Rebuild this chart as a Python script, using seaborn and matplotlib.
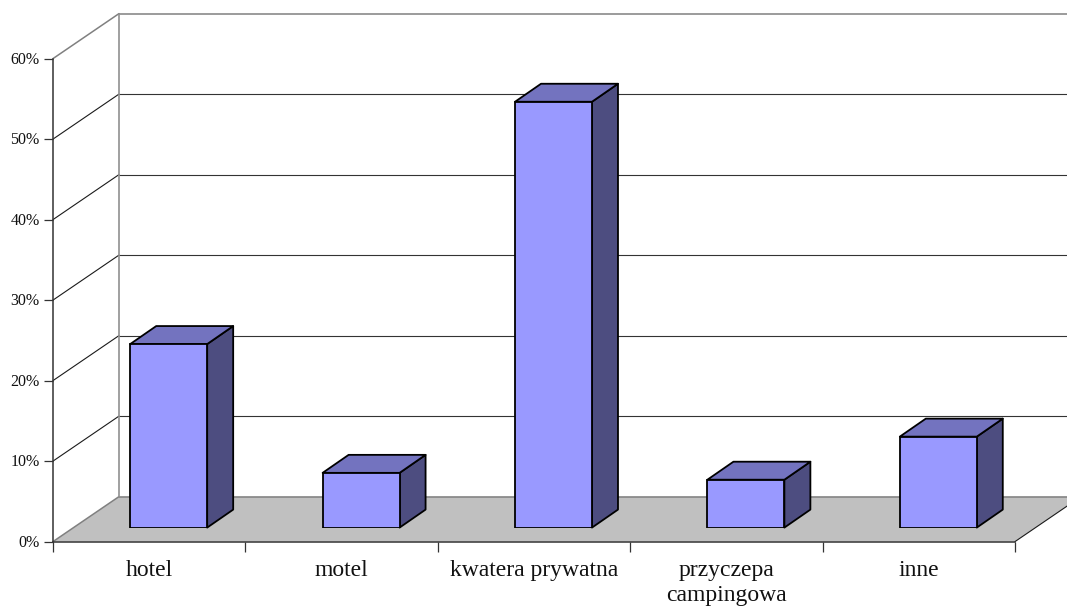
import numpy as np
import pandas as pd
import matplotlib
matplotlib.use("Agg")
import matplotlib.pyplot as plt
from matplotlib.patches import Polygon
from matplotlib.lines import Line2D
from matplotlib.transforms import IdentityTransform, ScaledTranslation
import seaborn as sns

categories = ["hotel", "motel", "kwatera prywatna", "przyczepa\ncampingowa", "inne"]
values = [22.8, 6.8, 52.9, 5.95, 11.3]
y_ticks = [0, 10, 20, 30, 40, 50, 60]
y_labels = ["0%", "10%", "20%", "30%", "40%", "50%", "60%"]

W, H = 1067, 606
sns.set_theme(style="white")
plt.rcParams["font.family"] = ["Liberation Serif", "DejaVu Serif"]

FRONT = "#9999FF"
SIDE = "#4D4D80"
TOP = "#7373BF"
FLOOR = "#C0C0C0"
GREY = "#808080"
DARK = "#1a1a1a"

fig = plt.figure(figsize=(W / 100, H / 100), dpi=100, facecolor="white")

# front plane of the chart: carries the axis, ticks and labels
L, R, B, T = 53, 1015, 541.6, 58.6
rect = [L / W, (H - B) / H, (R - L) / W, (B - T) / H]
ax = fig.add_axes(rect, facecolor="none")
ax.set_xlim(0, 5)
ax.set_ylim(0, 60)
for s in ("top", "right"):
    ax.spines[s].set_visible(False)
for s in ("left", "bottom"):
    ax.spines[s].set_color("#333333")
    ax.spines[s].set_linewidth(1.1)
ax.set_yticks(y_ticks)
ax.set_yticklabels(y_labels, fontsize=11.5, color="#111111")
ax.set_xticks(range(6))
ax.set_xticklabels([])
ax.set_xticks(np.arange(5) + 0.5, minor=True)
ax.set_xticklabels(categories, minor=True, fontsize=17, color="#111111", linespacing=1.26)
ax.tick_params(axis="x", which="major", length=7, width=0.9, color="#333333", bottom=True)
ax.tick_params(axis="x", which="minor", length=0, pad=13, bottom=False)
ax.tick_params(axis="y", which="major", length=6.5, width=0.9, color="#333333", left=True, pad=3)
nudge = ScaledTranslation(0, 1 / 100, fig.dpi_scale_trans)
for lab in ax.get_yticklabels():
    lab.set_transform(lab.get_transform() + nudge)

# depth of the box, in pixels
DX, DY = 66, 45
ident = IdentityTransform()
def px(x, y):
    return ax.transData.transform((x, y))

p0, p1 = px(0, 0), px(5, 0)
floor = Polygon([p0, p0 + (DX, DY), p1 + (DX, DY), p1], closed=True, transform=ident,
                facecolor=FLOOR, edgecolor="none", zorder=0, clip_on=False)
ax.add_patch(floor)

for t in y_ticks:
    a = px(0, t)
    b = a + (DX, DY)
    c = px(5, t) + (DX, DY)
    col = GREY if t in (0, 60) else DARK
    lw = 1.1 if t in (0, 60) else 0.8
    ax.add_line(Line2D([a[0], b[0]], [a[1], b[1]], color=col, lw=lw, transform=ident, clip_on=False, zorder=1))
    ax.add_line(Line2D([b[0], c[0]], [b[1], c[1]], color=GREY if t in (0, 60) else "#333333", lw=lw,
                       transform=ident, clip_on=False, zorder=1))
a = px(0, 0) + (DX, DY)
b = px(0, 60) + (DX, DY)
ax.add_line(Line2D([a[0], b[0]], [a[1], b[1]], color="#909090", lw=1.2, transform=ident, clip_on=False, zorder=1))
a = px(5, 0)
b = a + (DX, DY)
ax.add_line(Line2D([a[0], b[0]], [a[1], b[1]], color=DARK, lw=0.8, transform=ident, clip_on=False, zorder=1))

# bars: drawn on a plane set a little into the depth of the box
SX, SY = 19.5, 14
ax2 = fig.add_axes([(L + SX) / W, (H - B + SY) / H, (R - L) / W, (B - T) / H], facecolor="none")
df = pd.DataFrame({"category": categories, "value": values})
sns.barplot(data=df, x="category", y="value", ax=ax2, color=FRONT, saturation=1,
            width=0.4, edgecolor="black", linewidth=1.3, errorbar=None, zorder=3)
ax2.set_xlim(-0.5, 4.5)
ax2.set_ylim(0, 60)
ax2.axis("off")

BX, BY = 26, 18
for bar in list(ax2.patches):
    x0, x1 = bar.get_x(), bar.get_x() + bar.get_width()
    h = bar.get_height()
    bl = ax2.transData.transform((x0, 0))
    br = ax2.transData.transform((x1, 0))
    tl = ax2.transData.transform((x0, h))
    tr = ax2.transData.transform((x1, h))
    d = np.array([BX, BY])
    ax2.add_patch(Polygon([br, tr, tr + d, br + d], closed=True, transform=ident, clip_on=False,
                          facecolor=SIDE, edgecolor="black", lw=1.3, joinstyle="round", zorder=2))
    ax2.add_patch(Polygon([tl, tr, tr + d, tl + d], closed=True, transform=ident, clip_on=False,
                          facecolor=TOP, edgecolor="black", lw=1.3, joinstyle="round", zorder=2))

fig.savefig("out.png", dpi=100)
